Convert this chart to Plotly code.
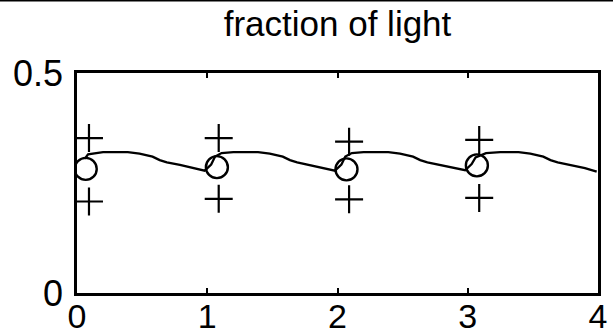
import plotly.graph_objects as go

# Fraction of light over four cycles (time in cycles)
t_curve = [0.06, 0.085, 0.20, 0.39, 0.48, 0.58, 0.635, 0.69, 0.79, 0.90, 0.98,
           1.03, 1.06, 1.11, 1.20, 1.39, 1.48, 1.58, 1.635, 1.69, 1.79, 1.90, 1.98,
           2.03, 2.06, 2.11, 2.20, 2.39, 2.48, 2.58, 2.635, 2.69, 2.79, 2.90, 2.98,
           3.03, 3.06, 3.14, 3.25, 3.39, 3.48, 3.58, 3.635, 3.69, 3.79, 3.90, 3.99]
frac_curve = [0.305, 0.315, 0.320, 0.320, 0.317, 0.310, 0.302, 0.297, 0.291, 0.284, 0.278,
              0.292, 0.310, 0.318, 0.320, 0.320, 0.317, 0.310, 0.302, 0.297, 0.291, 0.284, 0.278,
              0.292, 0.310, 0.318, 0.320, 0.320, 0.317, 0.310, 0.302, 0.297, 0.291, 0.284, 0.279,
              0.293, 0.308, 0.318, 0.320, 0.320, 0.317, 0.310, 0.302, 0.297, 0.291, 0.284, 0.276]

# Cycle means and spread
t_mean = [0.067, 1.074, 2.069, 3.070]
frac_mean = [0.282, 0.286, 0.281, 0.290]
t_band = [0.092, 1.088, 2.089, 3.088]
frac_upper = [0.352, 0.352, 0.344, 0.348]
frac_lower = [0.208, 0.214, 0.213, 0.216]

x_ticks = [0, 1, 2, 3, 4]
y_ticks = [0, 0.5]
y_tick_text = ["0", "0.5"]

FONT = "Liberation Sans, Arial, Helvetica, sans-serif"

fig = go.Figure()
fig.add_trace(go.Scatter(x=t_curve, y=frac_curve, mode="lines",
                         line=dict(color="black", width=2.3)))
fig.add_trace(go.Scatter(x=t_mean, y=frac_mean, mode="markers",
                         marker=dict(symbol="circle-open", size=22, color="black",
                                     line=dict(color="black", width=2.4))))
fig.add_trace(go.Scatter(x=t_band + t_band, y=frac_upper + frac_lower, mode="markers",
                         marker=dict(symbol="cross-thin-open", size=20, color="black",
                                     line=dict(color="black", width=2.2))))

axis_common = dict(showline=True, linecolor="black", linewidth=2.5, mirror="ticks",
                   ticks="inside", ticklen=5, tickwidth=2, tickcolor="black",
                   showgrid=False, zeroline=False, automargin=False)

fig.update_layout(
    width=613, height=331,
    margin=dict(l=77, r=15, t=73, b=38, autoexpand=False),
    paper_bgcolor="white", plot_bgcolor="white",
    showlegend=False,
    title=dict(text="fraction of light", x=0.5, xref="paper", xanchor="center",
               y=1 - 24 / 331, yanchor="middle", automargin=False,
               font=dict(family=FONT, size=35, color="black")),
    xaxis=dict(range=[0, 4], tickvals=x_ticks, ticktext=[str(v) for v in x_ticks],
               ticklabelstandoff=-9,
               tickfont=dict(family=FONT, size=34, color="black"), **axis_common),
    yaxis=dict(range=[0, 0.5], tickvals=y_ticks, ticktext=y_tick_text,
               ticklabelstandoff=4,
               tickfont=dict(family=FONT, size=36, color="black"), **axis_common),
)

# Frame line along the top edge of the figure
fig.add_shape(type="line", xref="paper", yref="paper",
              x0=-77 / 521, x1=1 + 15 / 521, y0=1 + 72.5 / 220, y1=1 + 72.5 / 220,
              line=dict(color="black", width=2))

fig.write_html("out.html")
